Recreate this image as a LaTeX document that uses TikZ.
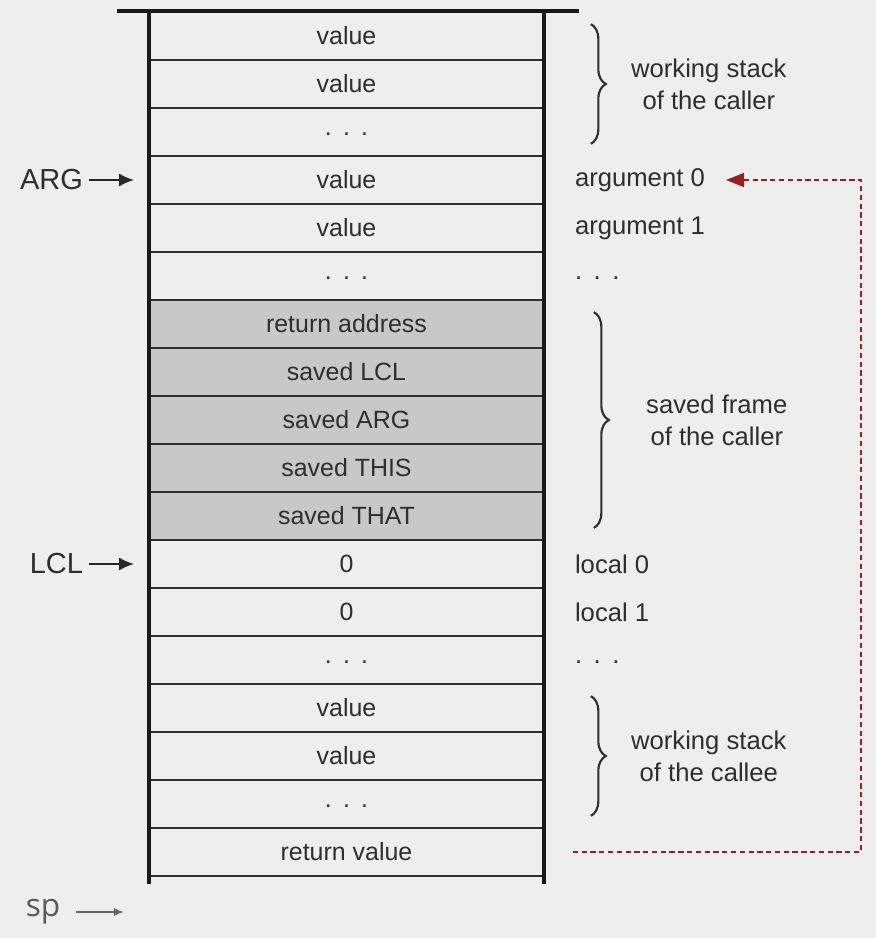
\documentclass[tikz,border=0pt]{standalone}
\usepackage{fontspec}
\setmainfont{Liberation Sans}
\newfontfamily\spfont{Open Sans}
\usetikzlibrary{positioning,calc,arrows.meta,decorations.pathreplacing}
\definecolor{bg}{HTML}{EEEEEE}
\definecolor{ink}{HTML}{2E2E2E}
\definecolor{framegray}{HTML}{C8C8C8}
\definecolor{retred}{HTML}{9B1C22}
\newcommand{\stackdots}{\raisebox{-0.25em}{.\hspace{0.45em}.\hspace{0.45em}.}}

\tikzset{
  cell/.style={draw=ink, line width=1pt, minimum width=7.86cm, minimum height=0.96cm,
    inner sep=0pt, text=ink, font=\fontsize{14.2}{16}\selectfont},
  saved/.style={cell, fill=framegray},
  wall/.style={line width=2.4pt, black!90},
  side/.style={right=0.5cm of #1, text=ink, font=\fontsize{14.6}{16}\selectfont},
  pointer/.style={left=1.2cm of #1, text=ink, font=\fontsize{16.5}{18}\selectfont},
  ptr/.style={-{Latex[length=0.3cm,width=0.26cm]}, line width=1.2pt, black!85, shorten >=0.3cm},
  brace/.style={decorate, decoration={brace, amplitude=0.3cm}, line width=1.2pt, ink},
  bracelbl/.style={midway, xshift=2.36cm, align=center, text=ink,
    font=\fontsize{14.6}{18.2}\selectfont},
  retarrow/.style={-{Triangle[length=0.36cm,width=0.28cm]}, retred, line width=0.9pt,
    dash pattern=on 3pt off 2pt, shorten >=0.3cm}
}

\begin{document}
\begin{tikzpicture}[x=0.02cm, y=-0.02cm]
  % background and page size
  \fill[bg] (0,0) rectangle (876,938);
  \useasboundingbox (0,0) rectangle (876,938);

  % the stack cells, top to bottom
  \foreach \lbl/\sty [count=\i] in {value/cell, value/cell, \stackdots/cell,
      value/cell, value/cell, \stackdots/cell,
      return address/saved, saved LCL/saved, saved ARG/saved, saved THIS/saved, saved THAT/saved,
      0/cell, 0/cell, \stackdots/cell,
      value/cell, value/cell, \stackdots/cell, return value/cell}
    \node[\sty] (c\i) at (346.5,{12+48*(\i-0.5)}) {\lbl};

  % walls of the stack
  \draw[wall] (c1.north west) -- ($(c18.south west)+(0,7)$);
  \draw[wall] (c1.north east) -- ($(c18.south east)+(0,7)$);
  \draw[wall] ($(c1.north west)+(-32,0)$) -- ($(c1.north east)+(35,0)$);

  % pointers
  \node[pointer=c4] (arg) {ARG};
  \draw[ptr] (arg) -- (c4);
  \node[pointer=c12] (lcl) {LCL};
  \draw[ptr] (lcl) -- (c12);
  \node[text=black!65, font=\spfont\fontsize{18}{20}\selectfont] (sp) at (43,912) {sp};
  \coordinate[right=1.15cm of sp] (sptip);
  \draw[-{Latex[length=0.2cm,width=0.17cm]}, line width=1.1pt, black!60, shorten <=0.2cm] (sp) -- (sptip);

  % labels on the right
  \node[side=c4] (a0) {argument 0};
  \node[side=c5] (a1) {argument 1};
  \node[side=c6] (adots) {\stackdots};
  \node[side=c12] (l0) {local 0};
  \node[side=c13] (l1) {local 1};
  \node[side=c14] (ldots) {\stackdots};

  % braces
  \draw[brace] ($(c1.north east)+(47,13)$) -- ($(c3.south east)+(47,-13)$)
    node[bracelbl] {working stack\\of the caller};
  \draw[brace] ($(c7.north east)+(50,13)$) -- ($(c11.south east)+(50,-13)$)
    node[bracelbl, xshift=0.1cm] {saved frame\\of the caller};
  \draw[brace] ($(c15.north east)+(47,13)$) -- ($(c17.south east)+(47,-13)$)
    node[bracelbl] {working stack\\of the callee};

  % return value goes to argument 0
  \coordinate[right=0.58cm of c18] (rvout);
  \draw[retarrow] (rvout) -| ($(a0.east -| rvout)+(288,0)$) -- (a0.east);
\end{tikzpicture}
\end{document}
